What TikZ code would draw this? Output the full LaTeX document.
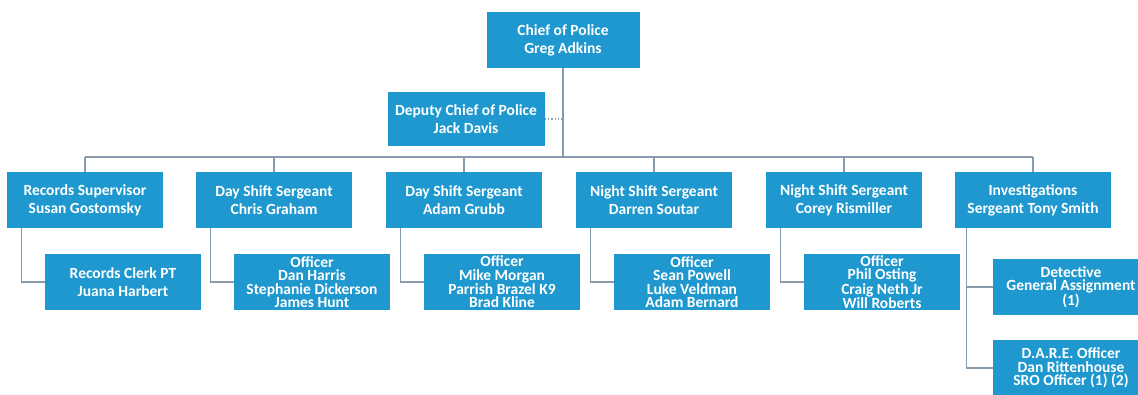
\documentclass[tikz,border=0pt]{standalone}
\usepackage{fontspec}
\setmainfont{Carlito}
\definecolor{boxblue}{RGB}{30,152,206}
\definecolor{linegrey}{RGB}{135,155,172}
\begin{document}
\begin{tikzpicture}[x=1pt,y=-1pt,
  box/.style={fill=boxblue, text=white, minimum width=156pt, minimum height=56pt,
    align=center, inner sep=1pt, font=\fontsize{15.5}{18}\selectfont\bfseries},
  tight/.style={font=\fontsize{15.5}{13.3}\selectfont\bfseries},
  conn/.style={draw=linegrey, line width=1.3pt}]
\useasboundingbox (0,0) rectangle (1138,395);
\clip (0,0) rectangle (1138,395);
% top levels
\node[box, minimum width=153pt] (chief) at (563,40) {Chief of Police\\Greg Adkins};
\node[box, minimum width=157pt, minimum height=54pt] (deputy) at (466,119) {Deputy Chief of Police\\Jack Davis};
\coordinate (bus) at (85,157);
% level 2
\node[box] (rs) at (85,200) {Records Supervisor\\Susan Gostomsky};
\node[box] (cg) at (274,200) {Day Shift Sergeant\\Chris Graham};
\node[box] (ag) at (464,200) {Day Shift Sergeant\\Adam Grubb};
\node[box] (ds) at (654,200) {Night Shift Sergeant\\Darren Soutar};
\node[box] (cr) at (844,200) {Night Shift Sergeant\\Corey Rismiller};
\node[box] (inv) at (1033,200) {Investigations\\Sergeant Tony Smith};
% level 3
\node[box] (rc) at (123,282) {Records Clerk PT\\Juana Harbert};
\node[box, tight] (o1) at (312,282) {Officer\\Dan Harris\\Stephanie Dickerson\\James Hunt};
\node[box, tight] (o2) at (502,282) {Officer\\Mike Morgan\\Parrish Brazel K9\\Brad Kline};
\node[box, tight] (o3) at (692,282) {Officer\\Sean Powell\\Luke Veldman\\Adam Bernard};
\node[box, tight] (o4) at (882,282) {Officer\\Phil Osting\\Craig Neth Jr\\Will Roberts};
\node[box, tight] (det) at (1071,287) {Detective\\General Assignment\\(1)};
\node[box, tight] (dare) at (1071,368) {D.A.R.E. Officer\\Dan Rittenhouse\\SRO Officer (1) (2)};
% connectors
\draw[conn] (chief.south) -- (chief.south |- bus);
\draw[conn, dotted] (deputy.east) -- (deputy.east -| chief.south);
\draw[conn] (rs.north |- bus) -- (inv.north |- bus);
\foreach \n in {rs,cg,ag,ds,cr,inv}
  \draw[conn] (\n.north |- bus) -- (\n.north);
\draw[conn] ([xshift=15pt]rs.south west) |- (rc.west);
\draw[conn] ([xshift=15pt]cg.south west) |- (o1.west);
\draw[conn] ([xshift=15pt]ag.south west) |- (o2.west);
\draw[conn] ([xshift=15pt]ds.south west) |- (o3.west);
\draw[conn] ([xshift=15pt]cr.south west) |- (o4.west);
\draw[conn] ([xshift=12pt]inv.south west) |- (det.west);
\draw[conn] ([xshift=12pt]inv.south west) |- (dare.west);
\end{tikzpicture}
\end{document}
